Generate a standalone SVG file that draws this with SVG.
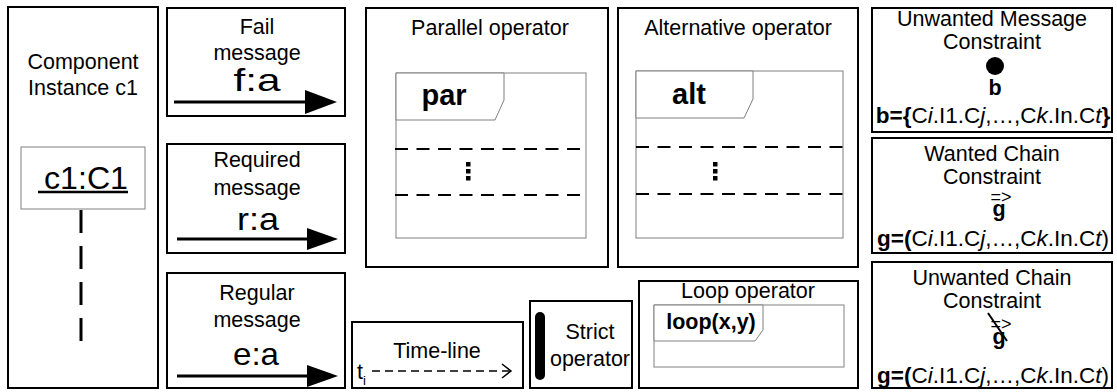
<svg xmlns="http://www.w3.org/2000/svg" width="1117" height="392" viewBox="0 0 1117 392">
<style>
.box{fill:#fff;stroke:#000;stroke-width:2}
.frame{fill:#fff;stroke:#808080;stroke-width:1}
.t{font-family:"Liberation Sans",Arial,sans-serif;font-size:21.5px;fill:#000;text-anchor:middle}
.b{font-weight:bold}
.big{font-size:32px}
.op{font-size:29px;font-weight:bold}
.f{font-size:22.5px}
.sm{font-size:18px}
.dash{stroke:#000;stroke-width:2;stroke-dasharray:13 8.5;fill:none}
.arr{stroke:#000;stroke-width:3;fill:none}
</style>
<rect width="1117" height="392" fill="#fff"/>

<g id="component-instance">
<rect class="box" x="8" y="7" width="150" height="381"/>
<text class="t" x="83" y="69">Component</text>
<text class="t" x="83" y="95">Instance c1</text>
<rect class="frame" x="21" y="147" width="124" height="62"/>
<text class="t big" x="86" y="189" textLength="84" lengthAdjust="spacingAndGlyphs">c1:C1</text>
<line x1="38" y1="192" x2="128" y2="192" stroke="#000" stroke-width="2.5"/>
<line x1="81" y1="210" x2="81" y2="342" stroke="#000" stroke-width="3" stroke-dasharray="23 13"/>
</g>

<g id="fail-message">
<rect class="box" x="167" y="8" width="178" height="108"/>
<text class="t" x="257" y="34">Fail</text>
<text class="t" x="257" y="60">message</text>
<text class="t big" x="257" y="91" textLength="47" lengthAdjust="spacingAndGlyphs">f:a</text>
</g>

<g id="required-message">
<rect class="box" x="167" y="144" width="178" height="109"/>
<text class="t" x="257" y="167">Required</text>
<text class="t" x="257" y="195">message</text>
<text class="t big" x="258" y="230" textLength="42" lengthAdjust="spacingAndGlyphs">r:a</text>
</g>

<g id="regular-message">
<rect class="box" x="167" y="273" width="178" height="115"/>
<text class="t" x="257" y="300">Regular</text>
<text class="t" x="257" y="327">message</text>
<text class="t big" x="256" y="365" textLength="46" lengthAdjust="spacingAndGlyphs">e:a</text>
</g>

<g id="parallel-operator">
<rect class="box" x="366" y="8" width="242" height="259"/>
<text class="t" x="490" y="35">Parallel operator</text>
<rect class="frame" x="396" y="73" width="190" height="165"/>
<path class="frame" d="M396,73 H504 V100 L495,120 H396 Z"/>
<text class="t op" x="444" y="105">par</text>
<line class="dash" x1="395" y1="149" x2="586" y2="149"/>
<line class="dash" x1="395" y1="195" x2="586" y2="195"/>
<rect x="466" y="162" width="4.5" height="4.5"/>
<rect x="466" y="169" width="4.5" height="4.5"/>
<rect x="466" y="176" width="4.5" height="4.5"/>
</g>

<g id="alternative-operator">
<rect class="box" x="618" y="8" width="240" height="259"/>
<text class="t" x="738" y="35">Alternative operator</text>
<rect class="frame" x="636" y="71" width="207" height="167"/>
<path class="frame" d="M636,71 H753 V99 L744,118 H636 Z"/>
<text class="t op" x="689" y="104">alt</text>
<line class="dash" x1="636" y1="147" x2="843" y2="147"/>
<line class="dash" x1="636" y1="194" x2="843" y2="194"/>
<rect x="713" y="162" width="4.5" height="4.5"/>
<rect x="713" y="169" width="4.5" height="4.5"/>
<rect x="713" y="176" width="4.5" height="4.5"/>
</g>

<g id="time-line">
<rect class="box" x="352" y="322" width="171" height="66"/>
<text class="t" x="437" y="358">Time-line</text>
<text class="t" x="357" y="379" style="text-anchor:start">t</text>
<text class="t" x="363" y="385" style="text-anchor:start;font-size:13px">i</text>
</g>

<g id="strict-operator">
<rect class="box" x="530" y="301" width="102" height="87"/>
<rect x="535" y="312" width="10" height="68" rx="5" fill="#000"/>
<text class="t" x="590" y="339">Strict</text>
<text class="t" x="590" y="366">operator</text>
</g>

<g id="loop-operator">
<rect class="box" x="639" y="281" width="219" height="107"/>
<text class="t" x="748" y="298">Loop operator</text>
<rect class="frame" x="654" y="305" width="190" height="62"/>
<path class="frame" d="M654,305 H763 V330 L755,341 H654 Z"/>
<text class="t b" x="711" y="329">loop(x,y)</text>
</g>

<g id="unwanted-message-constraint">
<rect class="box" x="872" y="8" width="240" height="124"/>
<text class="t" x="992" y="26">Unwanted Message</text>
<text class="t" x="992" y="49">Constraint</text>
<circle cx="995" cy="66" r="9" fill="#000"/>
<text class="t b" x="995" y="95">b</text>
<text class="t f" x="993" y="123"><tspan class="b">b={</tspan>C<tspan font-style="italic">i</tspan>.I1.C<tspan font-style="italic">j</tspan>,…,C<tspan font-style="italic">k</tspan>.In.C<tspan font-style="italic">t</tspan><tspan class="b">}</tspan></text>
</g>

<g id="wanted-chain-constraint">
<rect class="box" x="872" y="138" width="240" height="115"/>
<text class="t" x="992" y="161">Wanted Chain</text>
<text class="t" x="992" y="184">Constraint</text>
<text class="t sm" x="1001" y="203">=&gt;</text>
<text class="t b" x="999" y="216">g</text>
<text class="t f" x="993" y="246"><tspan class="b">g=(</tspan>C<tspan font-style="italic">i</tspan>.I1.C<tspan font-style="italic">j</tspan>,…,C<tspan font-style="italic">k</tspan>.In.C<tspan font-style="italic">t</tspan>)</text>
</g>

<g id="unwanted-chain-constraint">
<rect class="box" x="872" y="262" width="240" height="126"/>
<text class="t" x="992" y="285">Unwanted Chain</text>
<text class="t" x="992" y="308">Constraint</text>
<text class="t sm" x="1001" y="330">=&gt;</text>
<line x1="988" y1="313" x2="1007" y2="341" stroke="#000" stroke-width="2"/>
<text class="t b" x="999" y="344">g</text>
<text class="t f" x="993" y="383"><tspan class="b">g=(</tspan>C<tspan font-style="italic">i</tspan>.I1.C<tspan font-style="italic">j</tspan>,…,C<tspan font-style="italic">k</tspan>.In.C<tspan font-style="italic">t</tspan>)</text>
</g>

<g id="connectors">
<line class="arr" x1="174" y1="102" x2="306" y2="102"/>
<polygon points="305,90 337,102 305,114"/>
<line class="arr" x1="177" y1="239" x2="308" y2="239"/>
<polygon points="307,228 338,239 307,250"/>
<line class="arr" x1="177" y1="376" x2="308" y2="376"/>
<polygon points="307,365 338,376 307,387"/>
<line x1="372" y1="371" x2="510" y2="371" stroke="#000" stroke-width="1.5" stroke-dasharray="8 5"/>
<polyline points="502,364 511,371 502,378" fill="none" stroke="#000" stroke-width="1.5"/>
</g>
</svg>
